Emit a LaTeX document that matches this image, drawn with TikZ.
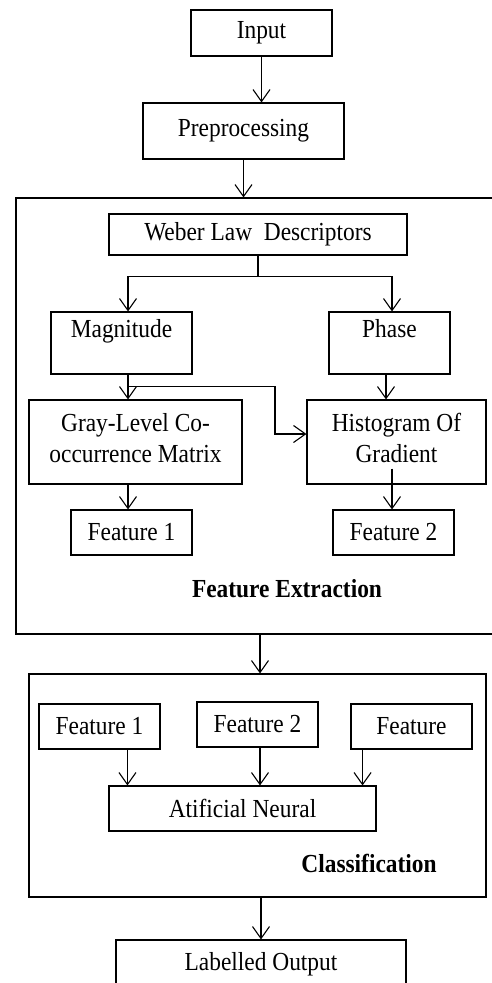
\documentclass[tikz,border=0pt]{standalone}
\usepackage{fontspec}
\setmainfont[FakeStretch=0.9]{Liberation Serif}
\usetikzlibrary{arrows.meta, positioning, calc}

\begin{document}
\begin{tikzpicture}[x=1pt, y=-1pt,
      box/.style={draw, line width=1.1pt, inner sep=0pt, align=center,
         font=\fontsize{26}{31}\selectfont},
      topbox/.style={box, text height=18pt, text depth=30pt},
      frame/.style={draw, line width=1.1pt, inner sep=0pt},
      tag/.style={font=\fontsize{26}{31}\selectfont\bfseries},
      arr/.style={-{Straight Barb[length=12pt, width=17pt]}, line width=1.1pt},
      wire/.style={line width=1.1pt}]
   \useasboundingbox (0,0) rectangle (491,983);
   % Top of the chain
   \node[box, minimum width=141pt, minimum height=46pt] (inp) at (261.5,33) {Input};
   \node[box, minimum width=201pt, minimum height=56pt] (prep) at (243.5,131) {Preprocessing};
   % Feature extraction frame
   \node[frame, minimum width=488pt, minimum height=436pt] (fe) at (260,416) {};
   \node[box, minimum width=298pt, minimum height=41pt] (web) at (258,234.5) {Weber Law\ \ Descriptors};
   \node[topbox, minimum width=141pt, minimum height=62pt] (mag) at (121.5,343) {Magnitude};
   \node[topbox, minimum width=121pt, minimum height=62pt] (phase) at (389.5,343) {Phase};
   \node[box, minimum width=213pt, minimum height=84pt] (glcm) at (135.5,442) {Gray-Level Co-\\occurrence Matrix\\[-23pt]\mbox{}};
   \node[box, minimum width=179pt, minimum height=84pt] (hog) at (396.5,442) {Histogram Of\\Gradient\\[-23pt]\mbox{}};
   \node[box, minimum width=121pt, minimum height=45pt] (feat1) at (131.5,532.5) {Feature 1};
   \node[box, minimum width=121pt, minimum height=45pt] (feat2) at (393.5,532.5) {Feature 2};
   \node[tag] (felbl) at (287,589) {Feature Extraction};
   % Classification frame
   \node[frame, minimum width=457pt, minimum height=223pt] (cls) at (257.5,785.5) {};
   \node[box, minimum width=121pt, minimum height=45pt] (cf1) at (99.5,726.5) {Feature 1};
   \node[box, minimum width=121pt, minimum height=45pt] (cf2) at (257.5,724.5) {Feature 2};
   \node[box, minimum width=121pt, minimum height=45pt] (cf3) at (411.5,726.5) {Feature};
   \node[box, minimum width=267pt, minimum height=45pt] (ann) at (242.5,808.5) {Atificial Neural};
   \node[tag] (clslbl) at (369,863) {Classification};
   % Output
   \node[box, minimum width=290pt, minimum height=60pt, text height=18pt, text depth=18pt] (lab) at (261,970) {Labelled Output};
   % Arrows, top
   \draw[arr] (inp.south) -- (inp.south |- prep.north);
   \draw[arr] (prep.south) -- (prep.south |- fe.north);
   % Split into magnitude and phase
   \draw[wire] (web.south) -- ++(0,21) coordinate (split);
   \draw[arr] (split) -| ([xshift=6.5pt]mag.north);
   \draw[arr] (split) -| ([xshift=2.5pt]phase.north);
   \draw[arr] ([xshift=6.5pt]mag.south) -- ([xshift=-7.5pt]glcm.north);
   \coordinate (tap) at ($([xshift=6.5pt]mag.south)+(0,12)$);
   \draw[arr] (tap) -- ++(147,0) |- ([yshift=8pt]hog.west);
   \draw[arr] ([xshift=-3.5pt]phase.south) -- ([xshift=-3.5pt]phase.south |- hog.north);
   \draw[arr] ([xshift=-3.5pt]feat1.north |- glcm.south) -- ([xshift=-3.5pt]feat1.north);
   \draw[arr] ($(feat2.north |- hog.south)+(-1.5,-16)$) -- ([xshift=-1.5pt]feat2.north);
   % Into classification
   \draw[arr] (fe.south) -- (fe.south |- cls.north);
   \coordinate (a1) at ([xshift=19pt]ann.north west);
   \coordinate (a3) at ([xshift=-14pt]ann.north east);
   \draw[arr] (cf1.south -| a1) -- (a1);
   \draw[arr] ([xshift=2.5pt]cf2.south) -- ([xshift=2.5pt]cf2.south |- ann.north);
   \draw[arr] (cf3.south -| a3) -- (a3);
   \draw[arr] (lab.north |- cls.south) -- (lab.north);
\end{tikzpicture}
\end{document}
